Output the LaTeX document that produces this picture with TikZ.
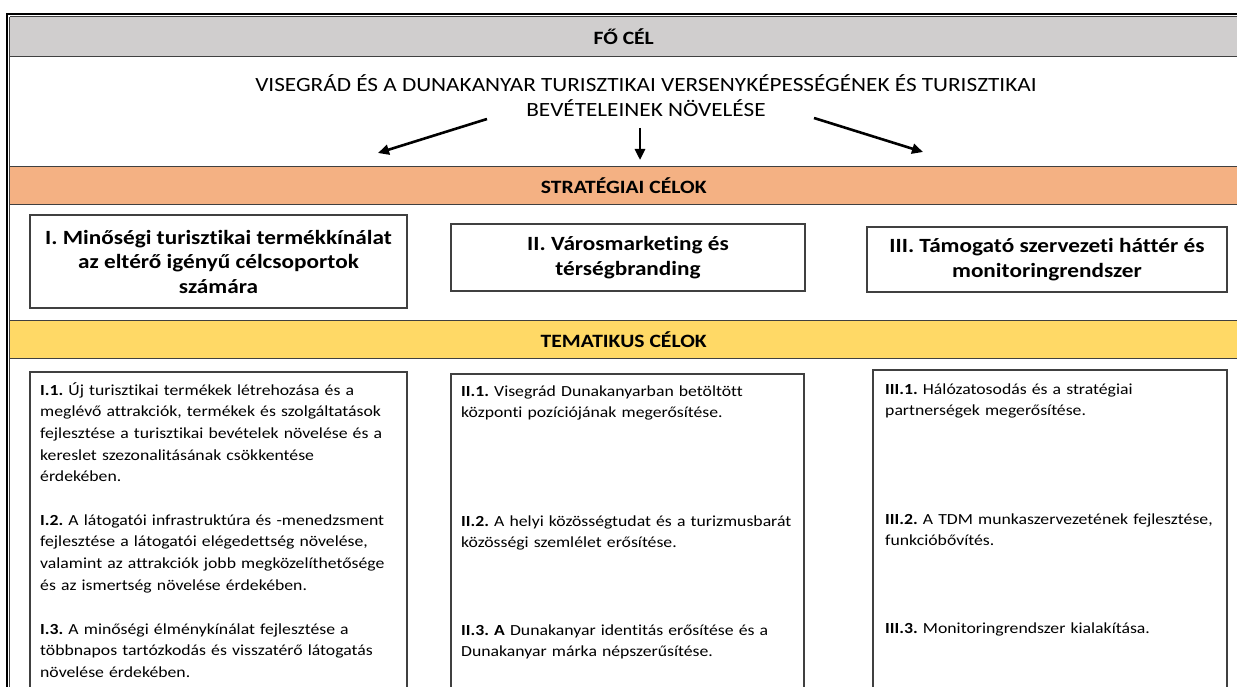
\documentclass[tikz,border=0pt]{standalone}
\usepackage{fontspec}
\setmainfont[FakeStretch=1.15,Ligatures=NoCommon]{Carlito}
\usetikzlibrary{arrows.meta}
\definecolor{focelgray}{HTML}{D0CECE}
\definecolor{strorange}{HTML}{F4B183}
\definecolor{temyellow}{HTML}{FFD966}
\definecolor{rulegray}{HTML}{404040}
\frenchspacing
\begin{document}
\begin{tikzpicture}[x=1pt,y=-1pt,
  band/.style={fill=#1,draw=none,minimum width=1227pt,minimum height=37pt,inner sep=0pt,anchor=west,font=\fontsize{18.8}{22}\selectfont\bfseries},
  bandline/.style={draw=rulegray,line width=1pt},
  celbox/.style={draw=rulegray,line width=1.2pt,align=center,inner sep=0pt,font=\fontsize{20.2}{24.5}\selectfont\bfseries},
  tema/.style={anchor=base west,align=left,inner sep=0pt,text width=375pt,font=\fontsize{15.4}{21.7}\selectfont},
  nyil/.style={-{Triangle[length=11pt,width=10pt]},line width=2.6pt}]
\useasboundingbox (0,0) rectangle (1237,687);
%\draw[very thin,color=gray] (0,0) grid[step=50] (1237,687);
% outer frame
\draw[line width=2pt] (7,687) -- (7,14) -- (1237,14);
\draw[bandline] (9.5,17) -- (9.5,687);
% bands
\node[band=focelgray,minimum height=39pt] (focel) at (10,36.5) {FŐ CÉL};
\node[band=strorange] (strat) at (10,185.5) {STRATÉGIAI CÉLOK};
\node[band=temyellow] (tema) at (10,339.5) {TEMATIKUS CÉLOK};
\draw[bandline] (focel.north west) -- (focel.north east) (focel.south west) -- (focel.south east);
\draw[bandline] (strat.north west) -- (strat.north east) (strat.south west) -- (strat.south east);
\draw[bandline] (tema.north west) -- (tema.north east) (tema.south west) -- (tema.south east);
% main goal
\node[font=\fontsize{20.2}{25}\selectfont,align=center,anchor=base,inner sep=0pt] (focelszoveg) at (646,117)
  {VISEGRÁD ÉS A DUNAKANYAR TURISZTIKAI VERSENYKÉPESSÉGÉNEK ÉS TURISZTIKAI\\BEVÉTELEINEK NÖVELÉSE};
\coordinate (ny1) at (487,119);
\coordinate (ny2) at (640,128);
\coordinate (ny3) at (814,118);
\coordinate (sc1be) at (378,153);
\coordinate (sc2be) at (640,160);
\coordinate (sc3be) at (923,152);
\draw[nyil] (ny1) -- (sc1be);
\draw[nyil] (ny2) -- (sc2be);
\draw[nyil] (ny3) -- (sc3be);
% strategic goals
\node[celbox,minimum width=377pt,minimum height=93pt] (sc1) at (218.5,261.5)
  {I. Minőségi turisztikai termékkínálat\\az eltérő igényű célcsoportok\\számára};
\node[celbox,minimum width=354pt,minimum height=67pt] (sc2) at (628,257.5)
  {II. Városmarketing és\\térségbranding};
\node[celbox,minimum width=360pt,minimum height=65pt] (sc3) at (1047,259.5)
  {III. Támogató szervezeti háttér és\\monitoringrendszer};
% thematic goals
\draw[bandline,line width=1.2pt] (30,687) |- (407,372) -- (407,687);
\draw[bandline,line width=1.2pt] (451,687) |- (804,374) -- (804,687);
\draw[bandline,line width=1.2pt] (873,687) |- (1227,370) -- (1227,687);
\node[tema] (t11) at (40,395) {\textbf{I.1.} Új turisztikai termékek létrehozása és a\\meglévő attrakciók, termékek és szolgáltatások\\fejlesztése a turisztikai bevételek növelése és a\\kereslet szezonalitásának csökkentése\\érdekében.};
\node[tema] (t12) at (40,525) {\textbf{I.2.} A látogatói infrastruktúra és -menedzsment\\fejlesztése a látogatói elégedettség növelése,\\valamint az attrakciók jobb megközelíthetősége\\és az ismertség növelése érdekében.};
\node[tema] (t13) at (40,634) {\textbf{I.3.} A minőségi élménykínálat fejlesztése a\\többnapos tartózkodás és visszatérő látogatás\\növelése érdekében.};
\node[tema] (t21) at (461,396) {\textbf{II.1.} Visegrád Dunakanyarban betöltött\\központi pozíciójának megerősítése.};
\node[tema] (t22) at (461,526) {\textbf{II.2.} A helyi közösségtudat és a turizmusbarát\\közösségi szemlélet erősítése.};
\node[tema] (t23) at (461,635) {\textbf{II.3. A} Dunakanyar identitás erősítése és a\\Dunakanyar márka népszerűsítése.};
\node[tema] (t31) at (885,394) {\textbf{III.1.} Hálózatosodás és a stratégiai\\partnerségek megerősítése.};
\node[tema] (t32) at (885,524) {\textbf{III.2.} A TDM munkaszervezetének fejlesztése,\\funkcióbővítés.};
\node[tema] (t33) at (885,633) {\textbf{III.3.} Monitoringrendszer kialakítása.};
\end{tikzpicture}
\end{document}
